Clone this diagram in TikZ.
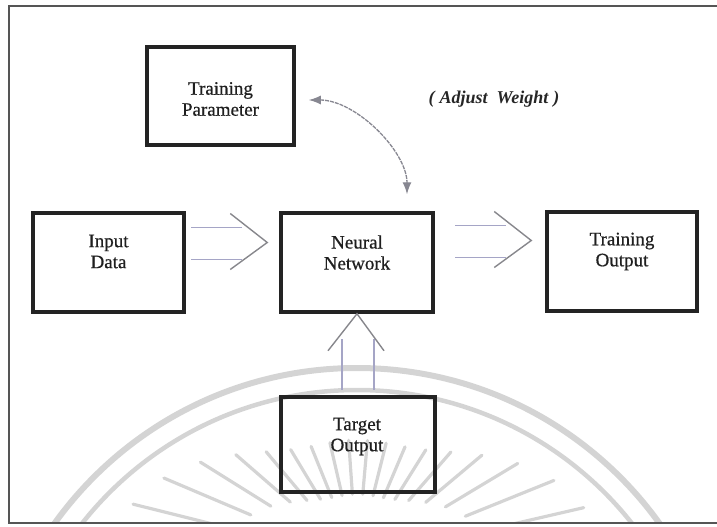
\documentclass[tikz,border=0pt]{standalone}
\usepackage{fontspec}
\setmainfont{Liberation Serif}
\newfontfamily\boxfont{Liberation Serif}[FakeBold=0.6]
\usetikzlibrary{arrows.meta,calc}

\definecolor{boxline}{RGB}{35,35,35}
\definecolor{framegray}{RGB}{85,85,85}
\definecolor{shaftblue}{RGB}{165,165,198}
\definecolor{chevgray}{RGB}{135,135,140}
\definecolor{fbgray}{RGB}{135,135,145}
\definecolor{sealgray}{RGB}{212,212,212}

\tikzset{
  blockbox/.style={draw=boxline, line width=3.5pt, inner sep=0pt},
  lbl/.style={align=center, font=\boxfont\fontsize{19}{21}\selectfont, text=black!88},
  note/.style={font=\fontsize{18}{20}\selectfont\bfseries\itshape, text=black!85},
  shaft/.style={draw=shaftblue, line width=1.4pt},
  chevron/.style={draw=chevgray, line width=1.4pt},
  feedback/.style={draw=fbgray, line width=1.3pt, dash pattern=on 4pt off 1pt,
    {Latex[length=12pt,width=9pt]}-{Latex[length=12pt,width=9pt]},
    shorten <=13pt, shorten >=17pt},
  seal/.style={draw=sealgray, line cap=round},
  outline/.style={draw=framegray, line width=1.5pt},
  % open "data flow" arrow: two parallel shafts and an open chevron, tip at origin
  hollowarrow/.pic={
    \draw[shaft] (-76,-15) -- (-25,-15);
    \draw[shaft] (-76,17) -- (-25,17);
    \draw[chevron] (-37,-29) -- (0,0) -- (-37,27);
  }
}

\begin{document}
\begin{tikzpicture}[x=1pt, y=-1pt]
\useasboundingbox (0,0) rectangle (717,527);

% faint seal in the background
\begin{scope}
  \clip (9,6) rectangle (717,523);
  \draw[seal, line width=6pt] (357,740) circle[radius=372];
  \draw[seal, line width=4.5pt] (357,740) circle[radius=350];
  \foreach \a in {13,22,...,167} {
    \pgfmathsetmacro\ro{120+125*(cos(\a))^4}
    \pgfmathsetmacro\ri{0.55*\ro}
    \draw[seal, line width=3.2pt]
      ($(357,560)+({\ri*cos(\a)},{-\ri*sin(\a)})$) --
      ($(357,560)+({\ro*cos(\a)},{-\ro*sin(\a)})$);
  }
\end{scope}

% outer frame
\draw[outline] (717,6) -| (9,523) -- (717,523);

% blocks
\node[blockbox, minimum width=147pt, minimum height=98pt] (TP) at (220.5,96) {};
\node[blockbox, minimum width=151pt, minimum height=99pt] (ID) at (108.5,262.5) {};
\node[blockbox, minimum width=152pt, minimum height=99pt] (NN) at (357,262.5) {};
\node[blockbox, minimum width=150pt, minimum height=99pt] (TO) at (622,261.5) {};
\node[blockbox, minimum width=154pt, minimum height=95pt] (TG) at (358,444.5) {};

% block texts
\node[lbl] (tTP) at ([yshift=-3pt]TP.center) {Training\\Parameter};
\node[lbl] (tID) at ([yshift=11pt]ID.center) {Input\\Data};
\node[lbl] (tNN) at ([yshift=10pt]NN.center) {Neural\\Network};
\node[lbl] (tTO) at ([yshift=10pt]TO.center) {Training\\Output};
\node[lbl] (tTG) at ([yshift=8pt,xshift=-1pt]TG.center) {Target\\Output};

\node[note] (aw) at (494,99) {(\;Adjust\enspace Weight\;)};

% flow arrows
\coordinate (tipIn) at ([xshift=-12pt,yshift=20pt]NN.west);
\coordinate (tipOut) at ([xshift=-14pt,yshift=21pt]TO.west);
\pic at (tipIn) {hollowarrow};
\pic at (tipOut) {hollowarrow};
\pic[rotate=90] at (NN.south) {hollowarrow};

% weight adjustment feedback
\draw[feedback] ([yshift=-4pt]TP.east) .. controls +(60,0) and +(0,-60) .. ([xshift=50pt]NN.north);
\end{tikzpicture}
\end{document}
